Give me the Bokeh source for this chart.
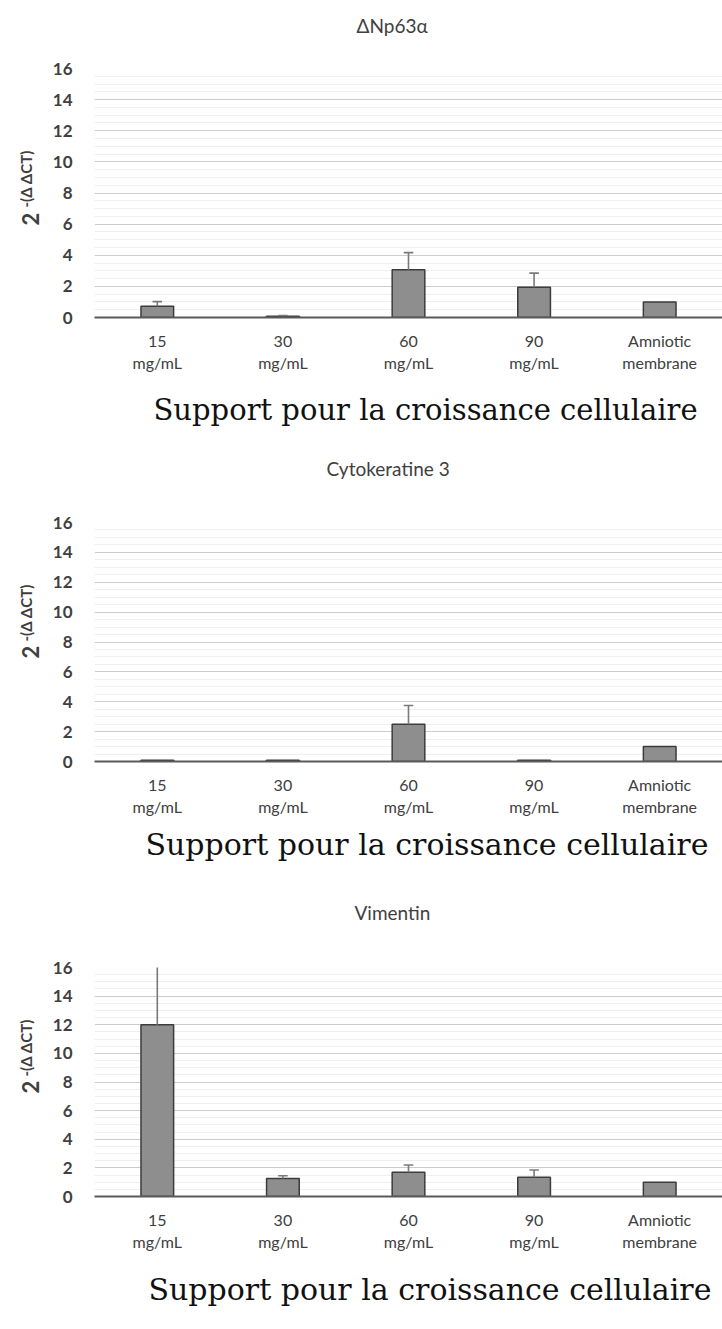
from bokeh.plotting import figure
from bokeh.layouts import column
from bokeh.models import Range1d, FixedTicker, Title, ColumnDataSource
from bokeh.embed import file_html
from bokeh.resources import INLINE

# ---------------- data ----------------
categories = ["15 mg/mL", "30 mg/mL", "60 mg/mL", "90 mg/mL", "Amniotic membrane"]
tick_labels = ["15\nmg/mL", "30\nmg/mL", "60\nmg/mL", "90\nmg/mL", "Amniotic\nmembrane"]
y_ticks = [0, 2, 4, 6, 8, 10, 12, 14, 16]

titles = ["ΔNp63α", "Cytokeratine 3", "Vimentin"]
x_title = "Support pour la croissance cellulaire"
y_base = "2"
y_sup = "-(Δ ΔCT)"

np63_mean = [0.72, 0.08, 3.07, 1.95, 1.0]
np63_err = [0.30, 0.05, 1.10, 0.90, 0.0]

ck3_mean = [0.08, 0.08, 2.50, 0.08, 1.0]
ck3_err = [0.0, 0.0, 1.25, 0.0, 0.0]

vim_mean = [12.0, 1.25, 1.70, 1.35, 1.0]
vim_err = [5.0, 0.20, 0.50, 0.50, 0.0]

series = [(np63_mean, np63_err), (ck3_mean, ck3_err), (vim_mean, vim_err)]

# ---------------- layout (page pixels) ----------------
FRAME_LEFT = 94
FIG_W = 722
charts_geo = [
    dict(fig_top=0, top=68, bottom=317, fig_bottom=446,
         spacer=18, title_off=262,
         xt_size=29, xt_off=59, xt_standoff=30,
         two_off=92, sup_off=110),
    dict(fig_top=446, top=522, bottom=761, fig_bottom=884,
         spacer=29, title_off=232,
         xt_size=30, xt_off=51, xt_standoff=11,
         two_off=103, sup_off=120),
    dict(fig_top=884, top=967, bottom=1196, fig_bottom=1325,
         spacer=30, title_off=260,
         xt_size=30, xt_off=54, xt_standoff=30,
         two_off=103, sup_off=120),
]

X_START, X_END = 0.5, 5.5
Y_START, Y_END = 0, 16

SANS = "Lato"
TXT = "#404040"
figs = []
for i, (g, (mean, err)) in enumerate(zip(charts_geo, series)):
    fig_h = g["fig_bottom"] - g["fig_top"]
    p = figure(width=FIG_W, height=fig_h, output_backend="svg", toolbar_location=None,
               x_range=Range1d(X_START, X_END), y_range=Range1d(Y_START, Y_END),
               min_border_left=FRAME_LEFT, min_border_right=0,
               min_border_top=g["top"] - g["fig_top"],
               min_border_bottom=g["fig_bottom"] - g["bottom"])
    p.outline_line_color = None
    p.title = None

    xs = list(range(1, len(categories) + 1))
    src = ColumnDataSource(dict(x=xs, top=mean, cat=categories))
    p.vbar(x="x", top="top", bottom=0, width=0.26, source=src,
           fill_color="#8e8e8e", line_color="#3c3c3c", line_width=1.5)

    ex = [x for x, e in zip(xs, err) if e > 0]
    ey0 = [m for m, e in zip(mean, err) if e > 0]
    ey1 = [m + e for m, e in zip(mean, err) if e > 0]
    p.segment(x0=ex, y0=ey0, x1=ex, y1=ey1, line_color="#7a7a7a", line_width=1.6)
    p.segment(x0=[x - 0.038 for x in ex], y0=ey1, x1=[x + 0.038 for x in ex], y1=ey1,
              line_color="#7a7a7a", line_width=1.6)

    # x axis
    p.xaxis.ticker = FixedTicker(ticks=xs)
    p.xaxis.major_label_overrides = {x: t for x, t in zip(xs, tick_labels)}
    p.xaxis.major_label_text_font = SANS
    p.xaxis.major_label_text_font_size = "16px"
    p.xaxis.major_label_text_color = TXT
    p.xaxis.major_label_standoff = 7
    p.xaxis.major_tick_line_color = None
    p.xaxis.minor_tick_line_color = None
    p.xaxis.axis_line_color = "#5a5a5a"
    p.xaxis.axis_line_width = 2

    # y axis
    minor = [k * 0.5 for k in range(0, 33) if k % 4 != 0]
    p.yaxis.ticker = FixedTicker(ticks=y_ticks, minor_ticks=minor)
    p.yaxis.major_label_text_font = SANS
    p.yaxis.major_label_text_font_style = "bold"
    p.yaxis.major_label_text_font_size = "17px"
    p.yaxis.major_label_text_color = TXT
    p.yaxis.major_tick_out = 0
    p.yaxis.minor_tick_out = 0
    p.yaxis.major_label_standoff = 22
    p.yaxis.major_tick_line_color = None
    p.yaxis.minor_tick_line_color = None
    p.yaxis.axis_line_color = None
    p.yaxis.axis_label = " "
    p.yaxis.axis_label_text_font_size = "10px"
    p.yaxis.axis_label_standoff = 5

    p.xgrid.grid_line_color = None
    p.ygrid.grid_line_color = "#cccccc"
    p.ygrid.grid_line_width = 1.2
    p.ygrid.minor_grid_line_color = "#efefef"
    p.ygrid.minor_grid_line_width = 1

    # chart title (spacer keeps it away from the frame)
    p.add_layout(Title(text=" ", standoff=g["spacer"], text_font=SANS,
                       text_font_size="10px"), "above")
    p.add_layout(Title(text=titles[i], align="left", offset=g["title_off"],
                       vertical_align="bottom", standoff=0, text_font=SANS,
                       text_font_size="19px", text_font_style="normal",
                       text_color=TXT), "above")

    # x axis title (serif)
    p.add_layout(Title(text=x_title, align="left", offset=g["xt_off"],
                       standoff=g["xt_standoff"], text_font="DejaVu Serif",
                       text_font_size="%dpx" % g["xt_size"], text_font_style="normal",
                       text_color="#111111"), "below")

    # y axis title: "2" with superscript
    p.add_layout(Title(text=y_base, align="left", offset=g["two_off"],
                       vertical_align="middle", standoff=-18, text_font=SANS,
                       text_font_size="22px", text_font_style="bold",
                       text_color=TXT), "left")
    p.add_layout(Title(text=y_sup, align="left", offset=g["sup_off"],
                       vertical_align="middle", standoff=-12, text_font=SANS,
                       text_font_size="15px", text_font_style="bold",
                       text_color=TXT), "left")
    figs.append(p)

layout = column(*figs, spacing=0)
open("out.html", "w").write(file_html(layout, INLINE))
